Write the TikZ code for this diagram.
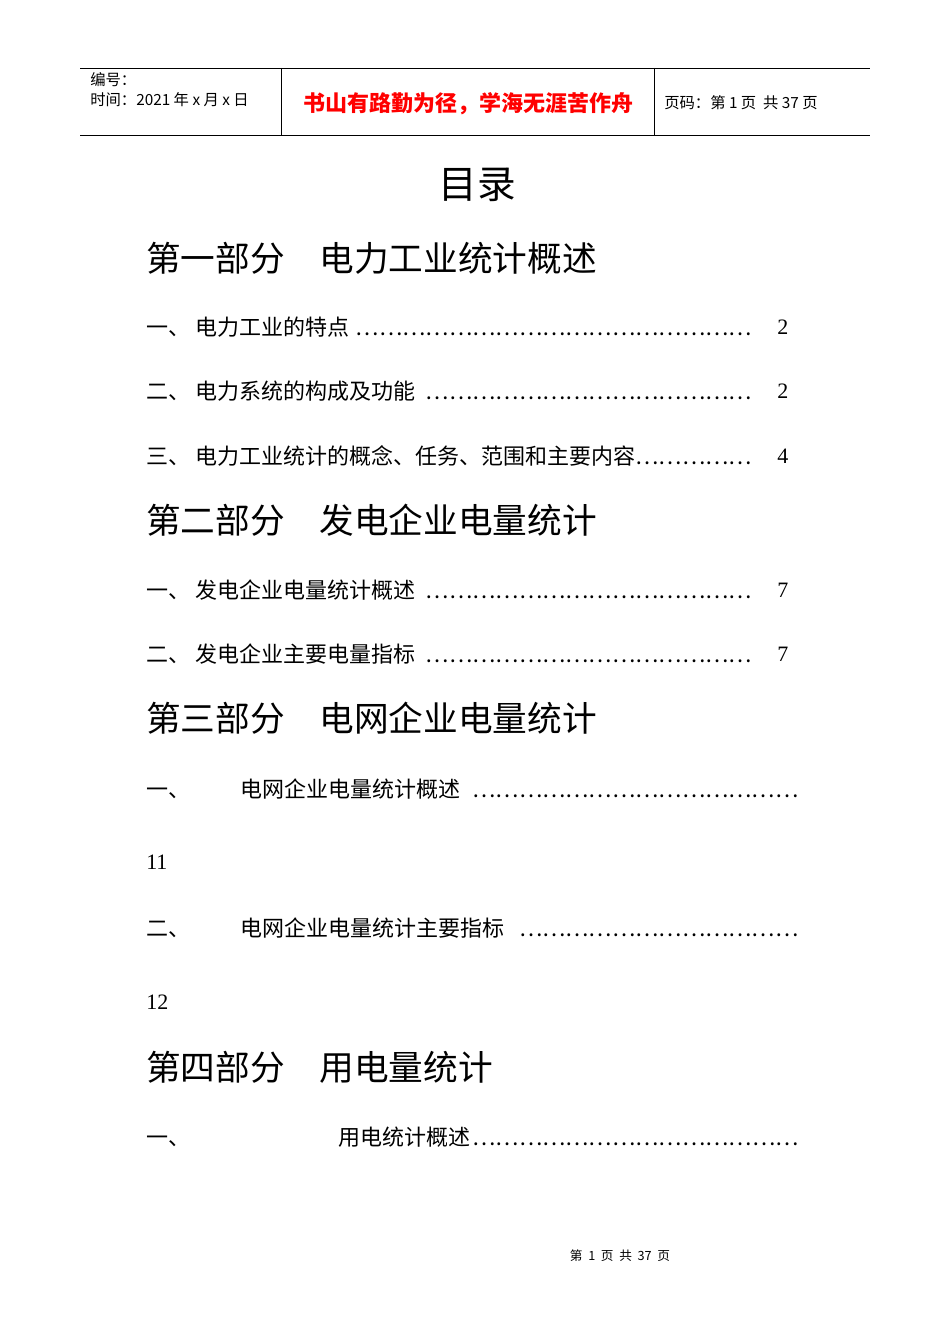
\documentclass[tikz,border=0pt]{standalone}
\usepackage{fontspec}
\setmainfont{Noto Sans CJK SC}
\newfontfamily\serifd{Liberation Serif}
\begin{document}
\begin{tikzpicture}[x=0.75pt,y=-0.75pt,
  every node/.style={inner sep=0pt,anchor=west},
  hd/.style={font=\fontsize{26}{30}\selectfont},
  en/.style={font=\fontsize{16.5}{20}\selectfont},
  num/.style={font=\serifd\fontsize{16.5}{20}\selectfont}]
\useasboundingbox[fill=white] (0,0) rectangle (950,1344);
\draw[line width=0.6pt] (80,68) -- (870,68);
\draw[line width=0.6pt] (80,135) -- (870,135);
\draw[line width=0.6pt] (281,68) -- (281,135);
\draw[line width=0.6pt] (654,68) -- (654,135);
\node[font=\fontsize{11.5}{13}\selectfont] (h1) at (90,80) {编号：};
\node[font=\fontsize{11.5}{13}\selectfont] (h2) at (90,100) {时间：2021 年 x 月 x 日};
\node[anchor=center,text=red,font=\bfseries\fontsize{16.5}{19}\selectfont] (h3) at (468,104) {书山有路勤为径，学海无涯苦作舟};
\node[font=\fontsize{11.5}{13}\selectfont] (h4) at (664,103) {页码：第 1 页\ \ 共 37 页};
\node[anchor=center,font=\fontsize{29}{34}\selectfont] (t) at (477,185) {目录};
\node[hd] (s1) at (146,258) {第一部分\quad 电力工业统计概述};
\node[en] (a1) at (146,327) {\hbox to 460pt{一、 电力工业的特点\leaders\hbox{…}\hfill}};
\node[num] (n1) at (777,327) {2};
\node[en] (a2) at (146,391) {\hbox to 460pt{二、 电力系统的构成及功能\leaders\hbox{…}\hfill}};
\node[num] (n2) at (777,391) {2};
\node[en] (a3) at (146,456) {\hbox to 460pt{三、 电力工业统计的概念、任务、范围和主要内容\leaders\hbox{…}\hfill}};
\node[num] (n3) at (777,456) {4};
\node[hd] (s2) at (146,520) {第二部分\quad 发电企业电量统计};
\node[en] (b1) at (146,590) {\hbox to 460pt{一、 发电企业电量统计概述\leaders\hbox{…}\hfill}};
\node[num] (m1) at (777,590) {7};
\node[en] (b2) at (146,654) {\hbox to 460pt{二、 发电企业主要电量指标\leaders\hbox{…}\hfill}};
\node[num] (m2) at (777,654) {7};
\node[hd] (s3) at (146,718) {第三部分\quad 电网企业电量统计};
\node[en] (c1) at (146,789) {\hbox to 493pt{一、\hspace{38pt}电网企业电量统计概述\leaders\hbox{…}\hfill}};
\node[num] (k1) at (146,862) {11};
\node[en] (c2) at (146,928) {\hbox to 493pt{二、\hspace{38pt}电网企业电量统计主要指标\leaders\hbox{…}\hfill}};
\node[num] (k2) at (146,1002) {12};
\node[hd] (s4) at (146,1067) {第四部分\quad 用电量统计};
\node[en] (d1) at (146,1137) {\hbox to 493pt{一、\hspace{111pt}用电统计概述\leaders\hbox{…}\hfill}};
\node[anchor=center,font=\fontsize{9.5}{11}\selectfont] (f) at (620,1256) {第\ \ 1\ \ 页\ \ 共\ \ 37\ \ 页};
\end{tikzpicture}
\end{document}
